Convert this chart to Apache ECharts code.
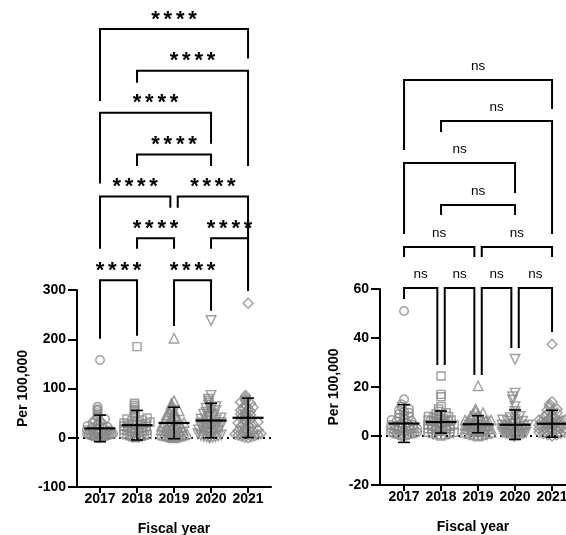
<!DOCTYPE html>
<html><head><meta charset="utf-8">
<script src="https://cdn.jsdelivr.net/npm/echarts@6/dist/echarts.min.js"></script>
<style>html,body{margin:0;padding:0;background:#fff}#c{width:566px;height:535px}</style>
</head><body><div id="c"></div>
<script>
const years = ['2017', '2018', '2019', '2020', '2021'];
const yLabel = 'Per 100,000';
const xLabel = 'Fiscal year';

// Left panel (all values)
const left2017 = [158, 63, 58, 55, 50, 45, 42, 38, 35, 33, 30, 28, 27, 25, 24, 22, 21, 20, 18, 17, 16, 15, 14, 13, 12, 12, 11, 10, 9, 9, 8, 8, 7, 6, 6, 5, 5, 4, 4, 3, 3, 2, 2, 1, 1, 0, 0];
const left2018 = [185, 70, 66, 62, 58, 55, 50, 46, 43, 40, 38, 36, 35, 33, 32, 30, 29, 28, 27, 26, 25, 24, 23, 22, 21, 20, 19, 18, 17, 16, 15, 14, 13, 12, 11, 10, 9, 8, 7, 6, 5, 4, 3, 2, 2, 1, 0];
const left2019 = [202, 75, 70, 66, 62, 58, 55, 52, 50, 47, 45, 43, 41, 39, 37, 35, 33, 31, 30, 28, 27, 25, 24, 22, 21, 20, 18, 17, 16, 15, 14, 13, 12, 11, 10, 9, 8, 7, 6, 5, 5, 4, 3, 3, 2, 1, 0];
const left2020 = [238, 86, 78, 74, 70, 66, 63, 60, 57, 55, 52, 50, 48, 46, 44, 42, 40, 38, 36, 35, 33, 31, 30, 28, 27, 25, 24, 22, 21, 19, 18, 16, 15, 13, 12, 10, 9, 8, 6, 5, 4, 3, 2, 2, 1, 0, 0];
const left2021 = [273, 86, 82, 78, 75, 72, 70, 67, 65, 62, 60, 58, 56, 54, 52, 50, 48, 46, 44, 42, 40, 38, 36, 34, 32, 30, 28, 27, 25, 23, 21, 20, 18, 16, 14, 13, 11, 10, 8, 7, 6, 5, 4, 3, 2, 1, 0];
const leftMean = [19, 25.5, 30, 35, 40.5];
const leftSD = [27, 30, 32, 35, 40];
const leftTicks = [-100, 0, 100, 200, 300];

// Right panel
const right2017 = [51, 15, 13, 12, 11, 10.5, 10, 9.5, 9, 8.5, 8, 7.5, 7, 6.5, 6, 6, 5.5, 5, 5, 4.5, 4.5, 4, 4, 3.8, 3.5, 3.5, 3, 3, 3, 2.5, 2.5, 2.5, 2, 2, 2, 1.5, 1.5, 1, 1, 1, 0.8, 0.6, 0.4, 0.2, 0, 0, 4];
const right2018 = [24.5, 17, 16, 12, 11, 10, 9.5, 9, 8.5, 8, 8, 7.5, 7, 7, 7, 6.5, 6.5, 6, 6, 6, 5.5, 5.5, 5, 5, 5, 4.5, 4.5, 4, 4, 4, 3.5, 3.5, 3, 3, 3, 3, 2.5, 2.5, 2, 2, 1.5, 1.5, 1, 1, 0.5, 0.5, 0];
const right2019 = [20.5, 11, 10, 9.5, 9, 8.5, 8, 7.5, 7, 7, 6.5, 6.5, 6, 6, 6, 5.5, 5.5, 5, 5, 5, 5, 4.5, 4.5, 4.5, 4, 4, 4, 4, 3.5, 3.5, 3.5, 3, 3, 3, 3, 2.5, 2.5, 2, 2, 2, 1.5, 1.5, 1, 1, 0.5, 0.5, 0];
const right2020 = [31.3, 17.5, 16, 14.7, 12, 10, 9, 8, 7.5, 7, 6.5, 6, 6, 5.5, 5, 5, 4.5, 4.5, 4, 4, 3.8, 3.5, 3.5, 3, 3, 3, 2.8, 2.5, 2.5, 2.2, 2, 2, 2, 1.5, 1.5, 1.5, 1.2, 1, 1, 1, 0.8, 0.5, 0.5, 0.5, 0.3, 0, 0];
const right2021 = [37.5, 14, 13, 12, 11, 10.5, 10, 9.5, 9, 8.5, 8, 7.5, 7, 7, 6.5, 6.5, 6.2, 6, 6, 5.5, 5.5, 5.2, 5, 5, 5, 4.5, 4.5, 4.2, 4, 4, 4, 3.5, 3.5, 3, 3, 3, 2.5, 2.5, 2, 2, 1.5, 1.5, 1, 1, 0.5, 0.5, 0];
const rightMean = [5.1, 5.7, 4.8, 4.6, 5.0];
const rightSD = [7.7, 4.5, 3.5, 6.0, 5.5];
const rightTicks = [-20, 0, 20, 40, 60];

// Significance brackets (categories 1..5, heights in each panel's data units)
const leftBrFrom  = [1, 2, 1, 2, 1, 3, 2, 4, 1, 3];
const leftBrTo    = [5, 5, 4, 4, 3, 5, 3, 5, 2, 4];
const leftBrTop   = [830, 745, 660, 575, 490, 490, 405, 405, 320, 320];
const leftBrLEnd  = [684, 721, 516, 552, 384, 467, 384, 384, 201, 227];
const leftBrREnd  = [770, 552, 597, 552, 467, 298, 384, 298, 207, 258];
const leftBrLabel = ['****', '****', '****', '****', '****', '****', '****', '****', '****', '****'];

const rightBrFrom  = [1, 2, 1, 2, 1, 3, 1, 2, 3, 4];
const rightBrTo    = [5, 5, 4, 4, 3, 5, 2, 3, 4, 5];
const rightBrTop   = [145.3, 128.6, 111.4, 94.3, 77.1, 77.1, 60.4, 60.4, 60.4, 60.4];
const rightBrLEnd  = [116.7, 124.1, 82.4, 90.2, 73.1, 73.1, 55.9, 29, 24.9, 35.9];
const rightBrREnd  = [133.5, 82.4, 99.2, 90.2, 73.1, 73.1, 29, 24.9, 35.9, 42.4];
const rightBrLabel = ['ns', 'ns', 'ns', 'ns', 'ns', 'ns', 'ns', 'ns', 'ns', 'ns'];

// ---------- layout ----------
const FONT = '"Liberation Sans", Arial, sans-serif';
const L = {left: 77, top: 290, width: 194, height: 197, xMin: 0.378, xMax: 5.62, yMin: -100, yMax: 300, yInt: 100};
const R = {left: 380, top: 289, width: 186, height: 196, xMin: 0.35, xMax: 5.377, yMin: -20, yMax: 60, yInt: 20};

// Prism-like scatter spread: points grouped in horizontal rows by pixel height,
// each row spread evenly around the category centre.
function spread(values, pxY, pxX, rowH, step, maxW) {
  const idx = values.map((v, i) => i).sort((a, b) => values[a] - values[b]);
  const rows = {};
  idx.forEach(i => {
    const r = Math.floor(values[i] * pxY / rowH);
    (rows[r] = rows[r] || []).push(i);
  });
  const offs = new Array(values.length).fill(0);
  Object.keys(rows).forEach(r => {
    const list = rows[r];
    const k = list.length;
    if (k < 2) return;
    const s = Math.min(step, maxW / (k - 1));
    list.forEach((i, j) => {
      const pos = (j % 2 === 0 ? 1 : -1) * Math.ceil(j / 2);
      const shift = (k % 2 === 0) ? 0.5 : 0;
      offs[i] = ((pos + (j % 2 === 0 ? -shift : shift)) * s) / pxX;
    });
  });
  return offs;
}

const symbols = [
  {symbol: 'circle', size: 8.5, rot: 0},
  {symbol: 'rect', size: 8, rot: 0},
  {symbol: 'triangle', size: 9.5, rot: 0},
  {symbol: 'triangle', size: 9.5, rot: 180},
  {symbol: 'rect', size: 7, rot: 45}
];

function axesFor(P, gi, ticks, nameGapY) {
  const xAxis = {
    type: 'value', gridIndex: gi, min: P.xMin, max: P.xMax,
    name: xLabel, nameLocation: 'middle', nameGap: 35,
    nameTextStyle: {fontFamily: FONT, fontSize: 14, fontWeight: 'bold', color: '#000'},
    axisLine: {onZero: false, lineStyle: {color: '#000', width: 2}},
    axisTick: {show: true, length: 6, customValues: [1, 2, 3, 4, 5], lineStyle: {color: '#000', width: 2}},
    axisLabel: {customValues: [1, 2, 3, 4, 5], formatter: v => years[Math.round(v) - 1], margin: 5,
      fontFamily: FONT, fontSize: 14, fontWeight: 'bold', color: '#000'},
    splitLine: {show: false}
  };
  const yAxis = {
    type: 'value', gridIndex: gi, min: P.yMin, max: P.yMax, interval: P.yInt,
    name: yLabel, nameLocation: 'middle', nameGap: nameGapY,
    nameTextStyle: {fontFamily: FONT, fontSize: 14, fontWeight: 'bold', color: '#000'},
    axisLine: {onZero: false, lineStyle: {color: '#000', width: 2}},
    axisTick: {show: true, length: 9, lineStyle: {color: '#000', width: 2}},
    axisLabel: {margin: 11, fontFamily: FONT, fontSize: 14, fontWeight: 'bold', color: '#000',
      formatter: v => (ticks.indexOf(v) >= 0 ? String(v) : '')},
    splitLine: {show: false}
  };
  return {xAxis, yAxis};
}

function panelSeries(P, gi, groups, means, sds, br, labelStyle) {
  const pxY = P.height / (P.yMax - P.yMin);
  const pxX = P.width / (P.xMax - P.xMin);
  const series = [];
  groups.forEach((vals, g) => {
    const offs = spread(vals, pxY, pxX, 4, 5, 26);
    const s = {
      type: 'scatter', xAxisIndex: gi, yAxisIndex: gi, clip: false, z: 2,
      symbol: symbols[g].symbol, symbolSize: symbols[g].size, symbolRotate: symbols[g].rot,
      itemStyle: {color: 'rgba(0,0,0,0)', borderColor: '#888888', borderWidth: 1.45},
      emphasis: {disabled: true},
      data: vals.map((v, i) => [g + 1 + offs[i], v])
    };
    if (g === 0) {
      s.markLine = {
        silent: true, symbol: 'none', z: 1, label: {show: false},
        lineStyle: {color: '#000', width: 2, type: [2, 4]},
        data: [{yAxis: 0}]
      };
    }
    series.push(s);
  });
  // mean & SD
  series.push({
    type: 'custom', xAxisIndex: gi, yAxisIndex: gi, clip: false, z: 5,
    data: means.map((m, i) => [i + 1, m, sds[i]]),
    renderItem: (params, api) => {
      const x = api.value(0), m = api.value(1), s = api.value(2);
      const c = api.coord([x, m]), t = api.coord([x, m + s]), b = api.coord([x, m - s]);
      const st = {stroke: '#000', lineWidth: 1.6};
      return {type: 'group', children: [
        {type: 'line', shape: {x1: c[0], y1: t[1], x2: c[0], y2: b[1]}, style: st},
        {type: 'line', shape: {x1: c[0] - 6, y1: t[1], x2: c[0] + 6, y2: t[1]}, style: st},
        {type: 'line', shape: {x1: c[0] - 6, y1: b[1], x2: c[0] + 6, y2: b[1]}, style: st},
        {type: 'line', shape: {x1: c[0] - 15.5, y1: c[1], x2: c[0] + 15.5, y2: c[1]}, style: {stroke: '#000', lineWidth: 2.2}}
      ]};
    }
  });
  // brackets
  const n = br.from.length;
  const offL = [], offR = [];
  for (let i = 0; i < n; i++) {
    let ol = 0, or = 0;
    for (let j = 0; j < n; j++) {
      if (j === i || br.top[j] !== br.top[i]) continue;
      if (br.to[j] === br.from[i]) ol = 0.1;
      if (br.from[j] === br.to[i]) or = -0.1;
    }
    offL.push(ol); offR.push(or);
  }
  series.push({
    type: 'custom', xAxisIndex: gi, yAxisIndex: gi, clip: false, z: 6, silent: true,
    data: br.from.map((f, i) => [f + offL[i], br.to[i] + offR[i], br.top[i], br.lEnd[i], br.rEnd[i]]),
    renderItem: (params, api) => {
      const i = params.dataIndex;
      const a = api.coord([api.value(0), api.value(3)]);
      const b = api.coord([api.value(0), api.value(2)]);
      const c = api.coord([api.value(1), api.value(2)]);
      const d = api.coord([api.value(1), api.value(4)]);
      const children = [{type: 'polyline', shape: {points: [a, b, c, d]},
        style: {stroke: '#000', lineWidth: 2, fill: null}}];
      const text = br.label[i];
      const cx = (b[0] + c[0]) / 2, cy = b[1] + labelStyle.dy;
      const font = labelStyle.fontWeight + ' ' + labelStyle.fontSize + 'px ' + FONT;
      if (labelStyle.pitch > 0) {
        const chars = text.split('');
        chars.forEach((ch, k) => {
          children.push({type: 'text', style: {text: ch, x: cx + (k - (chars.length - 1) / 2) * labelStyle.pitch, y: cy,
            align: 'center', verticalAlign: 'middle', fill: '#000', font}});
        });
      } else {
        children.push({type: 'text', style: {text, x: cx, y: cy, align: 'center', verticalAlign: 'middle', fill: '#000', font}});
      }
      return {type: 'group', children};
    }
  });
  return series;
}

const la = axesFor(L, 0, leftTicks, 47);
const ra = axesFor(R, 1, rightTicks, 39);

const option = {
  animation: false,
  backgroundColor: '#fff',
  grid: [
    {left: L.left, top: L.top, width: L.width, height: L.height, containLabel: false, outerBoundsMode: 'none'},
    {left: R.left, top: R.top, width: R.width, height: R.height, containLabel: false, outerBoundsMode: 'none'}
  ],
  xAxis: [la.xAxis, ra.xAxis],
  yAxis: [la.yAxis, ra.yAxis],
  series: [
    ...panelSeries(L, 0, [left2017, left2018, left2019, left2020, left2021], leftMean, leftSD,
      {from: leftBrFrom, to: leftBrTo, top: leftBrTop, lEnd: leftBrLEnd, rEnd: leftBrREnd, label: leftBrLabel},
      {fontSize: 22, fontWeight: 'bold', pitch: 12.3, dy: -9.5}),
    ...panelSeries(R, 1, [right2017, right2018, right2019, right2020, right2021], rightMean, rightSD,
      {from: rightBrFrom, to: rightBrTo, top: rightBrTop, lEnd: rightBrLEnd, rEnd: rightBrREnd, label: rightBrLabel},
      {fontSize: 13.5, fontWeight: 'normal', pitch: 0, dy: -14})
  ]
};

const chart = echarts.init(document.getElementById('c'), null, {renderer: 'canvas', width: 566, height: 535});
chart.setOption(option);
</script>
</body></html>
